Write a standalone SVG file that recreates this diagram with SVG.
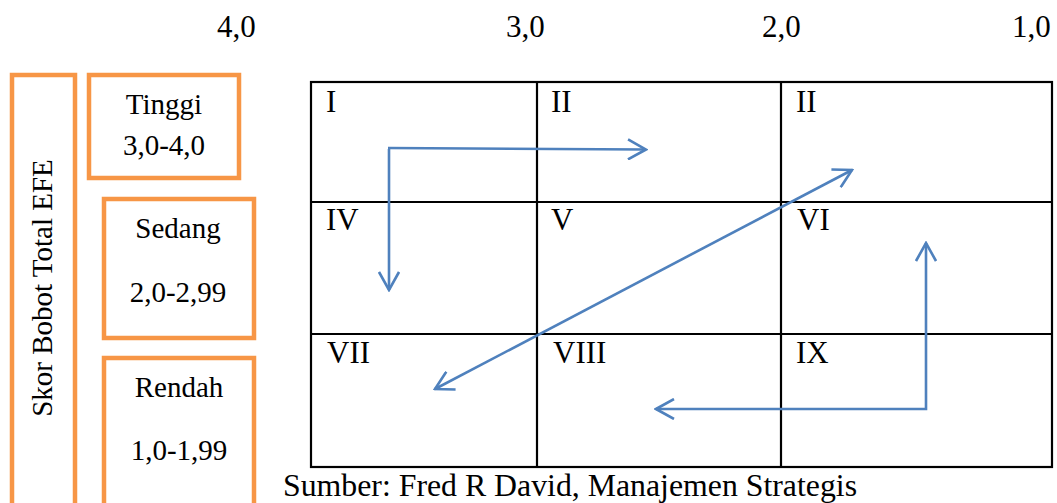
<svg xmlns="http://www.w3.org/2000/svg" width="1057" height="503" viewBox="0 0 1057 503">
<style>
text{font-family:"Liberation Serif","Times New Roman",serif;fill:#000}
.lbl{font-size:31px}
.cap{font-size:31.8px}
.box{fill:none;stroke:#F79646;stroke-width:4.5}
.bt{font-size:29px;text-anchor:middle}
.grid{fill:none;stroke:#000;stroke-width:2.2}
.arr{fill:none;stroke:#4F81BD;stroke-width:2.6}
</style>
<defs>
<marker id="ah" viewBox="0 0 22 22" refX="20" refY="11" markerWidth="22" markerHeight="22" markerUnits="userSpaceOnUse" orient="auto-start-reverse">
<path d="M2,1 L20,11 L2,21" fill="none" stroke="#4F81BD" stroke-width="2.6"/>
</marker>
</defs>
<rect width="1057" height="503" fill="#fff"/>
<g id="axis-top">
<text class="lbl" x="217" y="37">4,0</text>
<text class="lbl" x="506" y="37">3,0</text>
<text class="lbl" x="762" y="37">2,0</text>
<text class="lbl" x="1012" y="37">1,0</text>
</g>
<g id="efe-title">
<rect class="box" x="12" y="75" width="63" height="440"/>
<text class="bt" transform="translate(52,288) rotate(-90)">Skor Bobot Total EFE</text>
</g>
<g id="tinggi">
<rect class="box" x="89" y="75" width="150" height="103"/>
<text class="bt" x="164" y="114">Tinggi</text>
<text class="bt" x="164" y="155">3,0-4,0</text>
</g>
<g id="sedang">
<rect class="box" x="104" y="199" width="150" height="139"/>
<text class="bt" x="178" y="238">Sedang</text>
<text class="bt" x="178" y="302">2,0-2,99</text>
</g>
<g id="rendah">
<rect class="box" x="104" y="358" width="150" height="160"/>
<text class="bt" x="179" y="397">Rendah</text>
<text class="bt" x="179" y="460">1,0-1,99</text>
</g>
<g id="matrix">
<rect class="grid" x="311" y="82" width="741" height="385"/>
<line class="grid" x1="537" y1="82" x2="537" y2="467"/>
<line class="grid" x1="781" y1="82" x2="781" y2="467"/>
<line class="grid" x1="311" y1="202" x2="1052" y2="202"/>
<line class="grid" x1="311" y1="334" x2="1052" y2="334"/>
<text class="lbl" x="326" y="112">I</text>
<text class="lbl" x="551" y="112">II</text>
<text class="lbl" x="796" y="112">II</text>
<text class="lbl" x="326" y="230">IV</text>
<text class="lbl" x="551" y="230">V</text>
<text class="lbl" x="797" y="230">VI</text>
<text class="lbl" x="327" y="363">VII</text>
<text class="lbl" x="553" y="363">VIII</text>
<text class="lbl" x="796" y="363">IX</text>
</g>
<g id="connectors">
<line class="arr" x1="388" y1="148" x2="646" y2="149.5" marker-end="url(#ah)"/>
<line class="arr" x1="389" y1="149" x2="389" y2="290" marker-end="url(#ah)"/>
<line class="arr" x1="435" y1="389" x2="852" y2="170" marker-start="url(#ah)" marker-end="url(#ah)"/>
<polyline class="arr" points="656,409 926,409 926,243" marker-start="url(#ah)" marker-end="url(#ah)"/>
</g>
<g id="caption">
<text class="cap" x="283" y="496">Sumber: Fred R David, Manajemen Strategis</text>
</g>
</svg>
